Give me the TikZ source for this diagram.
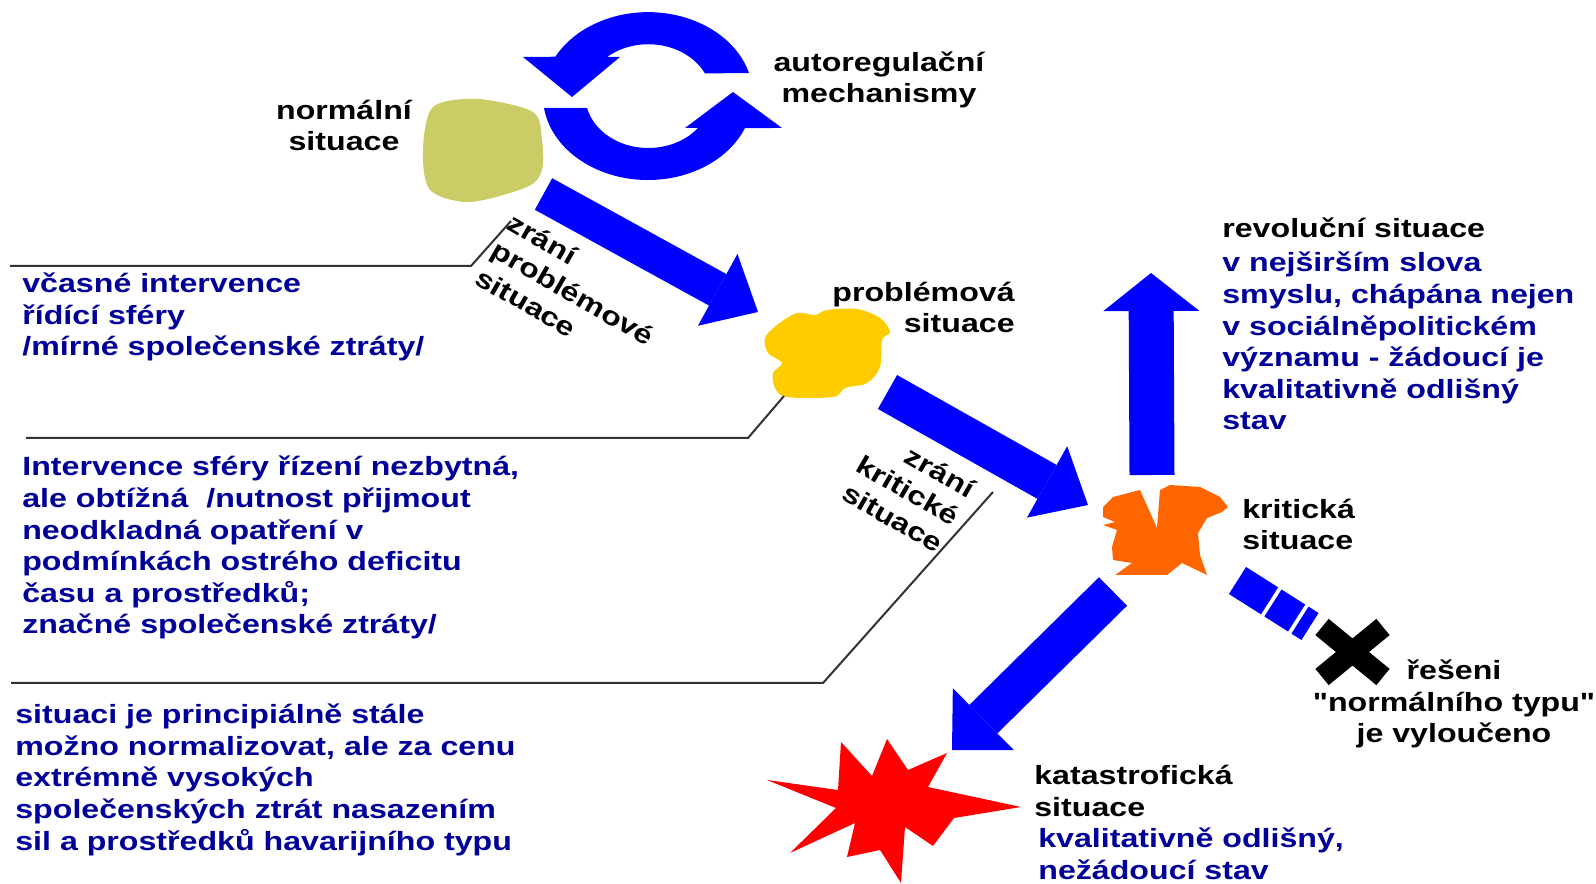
\documentclass[tikz,border=0pt]{standalone}
\usepackage{fontspec}
\usetikzlibrary{arrows.meta}
\newfontfamily\widebold[FakeStretch=1.22]{Liberation Sans Bold}
\definecolor{arrowblue}{RGB}{0,0,255}
\definecolor{noteblue}{RGB}{0,0,153}
\definecolor{normalfill}{RGB}{204,204,102}
\definecolor{problemfill}{RGB}{255,204,0}
\definecolor{criticalfill}{RGB}{255,102,0}
\definecolor{catastrfill}{RGB}{255,0,0}

\begin{document}
\begin{tikzpicture}[
  x=0.02cm, y=-0.02cm,
  lbl/.style={font={\widebold\fontsize{15}{18}\selectfont}, inner sep=0pt},
  note/.style={lbl, text=noteblue, align=left, anchor=base west},
  leader/.style={draw=black!80, line width=0.04cm},
  bigarrow/.style n args={3}{draw=arrowblue, line width=#1, -{Triangle[length=#2, width=#3, line width=0pt]}},
  strip/.style={draw=arrowblue, line width=0.64cm, dash pattern=on 0.76cm off 0.08cm on 0.56cm off 0.08cm on 0.24cm},
]
\useasboundingbox (0,0) rectangle (1596,884);

\coordinate (normal) at (483,150);
\coordinate (problem) at (828,355);
\coordinate (critical) at (1165,530);
\coordinate (catastr) at (895,810);
\coordinate (xmark) at (1352,652);

\fill[normalfill] plot[smooth cycle] coordinates {(433,107) (478,99) (533,112) (542,140) (542,170) (527,187) (470,202) (430,190) (423,150)};
\fill[problemfill] plot[smooth cycle, tension=0.55] coordinates {(765,338) (777,325) (797,313) (815,315) (827,310) (857,309) (880,318) (890,332) (882,340) (880,367) (867,383) (845,388) (833,397) (787,397) (775,388) (773,373) (782,363) (768,353)};
\fill[criticalfill] (1103,507) -- (1113,497) -- (1140,490) -- (1157,528) -- (1160,490) -- (1170,485) -- (1200,487) -- (1220,497) -- (1228,507) -- (1222,512) -- (1207,518) -- (1198,533) -- (1200,555) -- (1207,575) -- (1182,563) -- (1167,575) -- (1115,575) -- (1132,563) -- (1113,560) -- (1112,547) -- (1117,530) -- (1103,525) -- (1115,522) -- (1103,517) -- cycle;
\fill[catastrfill] (767,780) -- (838,790) -- (841,742) -- (872,776) -- (887,739) -- (908,770) -- (947,753) -- (928,787) -- (1021,807) -- (954,818) -- (933,846) -- (905,827) -- (901,883) -- (880,850) -- (847,857) -- (855,823) -- (790,853) -- (836,808) -- cycle;

\fill[arrowblue] (749,73) arc[start angle=-16, end angle=-152, x radius=105, y radius=84] -- (523,57) -- (572,97) -- (620,57) -- (607,57) arc[start angle=-131, end angle=-26, x radius=63, y radius=52] -- cycle;
\fill[arrowblue] (544,108) arc[start angle=171.8, end angle=22.4, x radius=105, y radius=84] -- (782,128) -- (733,92) -- (685,128) -- (698,128) arc[start angle=38, end angle=166.7, x radius=63, y radius=52] -- cycle;

\coordinate (normal-out) at (543.5,194);
\coordinate (problem-in) at (758,312);
\coordinate (problem-out) at (887.5,392);
\coordinate (critical-in) at (1088,505);
\coordinate (critical-up) at (1152,475);
\coordinate (revol-in) at (1151,273);
\coordinate (critical-down) at (1113,591.5);
\coordinate (catastr-in) at (952,750);
\coordinate (critical-right) at (1237.5,580.5);
\coordinate (xmark-in) at (1310,626.5);

\draw[bigarrow={0.72cm}{0.92cm}{1.64cm}] (normal-out) -- (problem-in);
\draw[bigarrow={0.78cm}{0.94cm}{1.64cm}] (problem-out) -- (critical-in);
\draw[bigarrow={0.9cm}{0.76cm}{1.92cm}] (critical-up) -- (revol-in);
\draw[bigarrow={0.8cm}{0.88cm}{1.74cm}] (critical-down) -- (catastr-in);
\draw[strip] (critical-right) -- (xmark-in);
\draw[line width=0.42cm] (1322,627) -- (1383,677) (1322,677) -- (1383,627);

\draw[leader] (10,266) -- (471,266) -- (511,221);
\draw[leader] (26,438) -- (748,438) -- (784,396);
\draw[leader] (11,683) -- (823,683) -- (993,492);

\node[lbl, align=center, anchor=base] (normal-lbl) at (344,151) {normální\\situace};
\node[lbl, align=center, anchor=base] (autoreg-lbl) at (879,103) {autoregulační\\mechanismy};
\node[lbl, align=right, anchor=base east] (problem-lbl) at (1015,333) {problémová\\situace};
\node[lbl, align=left, anchor=base west] (critical-lbl) at (1242,550) {kritická\\situace};
\node[lbl, anchor=base west] (revol-lbl) at (1222,238) {revoluční situace};
\node[lbl, align=left, anchor=base west] (catastr-lbl) at (1034,816) {katastrofická\\situace};
\node[lbl, align=center, anchor=base] (xmark-lbl) at (1454,743) {řešeni\\"normálního typu"\\je vyloučeno};
\node[lbl, align=left, rotate=-30] (ripen-problem) at (573,293) {zrání\\problémové\\situace};
\node[lbl, align=right, rotate=-30] (ripen-critical) at (908,490) {zrání\\kritické\\situace};

\node[note] (revol-note) at (1222,430) {v nejširším slova\\smyslu, chápána nejen\\v sociálněpolitickém\\významu - žádoucí je\\kvalitativně odlišný\\stav};
\node[note] (catastr-note) at (1038,879) {kvalitativně odlišný,\\nežádoucí stav};
\node[note] (early-note) at (22,356) {včasné intervence\\řídící sféry\\/mírné společenské ztráty/};
\node[note] (control-note) at (22,634) {Intervence sféry řízení nezbytná,\\ale obtížná\ \ /nutnost přijmout\\neodkladná opatření v\\podmínkách ostrého deficitu\\času a prostředků;\\značné společenské ztráty/};
\node[note] (extreme-note) at (15,850) {situaci je principiálně stále\\možno normalizovat, ale za cenu\\extrémně vysokých\\společenských ztrát nasazením\\sil a prostředků havarijního typu};
\end{tikzpicture}
\end{document}
